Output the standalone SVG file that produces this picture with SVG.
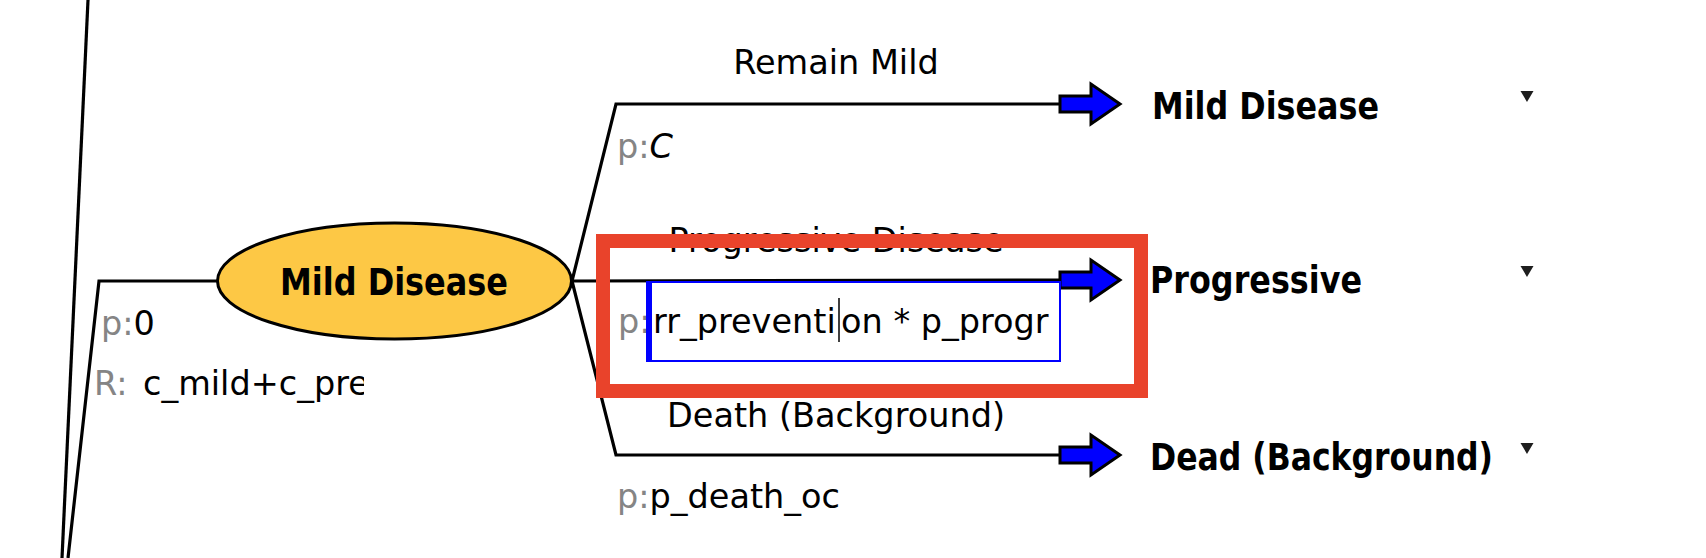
<svg xmlns="http://www.w3.org/2000/svg" width="1706" height="558" viewBox="0 0 1706 558">
  <style>
    .ln { fill: none; stroke: #000; stroke-width: 3.2; stroke-linejoin: miter; }
    .t { font-family: "DejaVu Sans", "Open Sans", sans-serif; font-size: 33.5px; fill: #000; }
    .b { font-family: "DejaVu Sans", "Open Sans", sans-serif; font-size: 37px; font-weight: bold; fill: #000; }
    .g { fill: #858585; }
    .arrow { fill: #0000ff; stroke: #000; stroke-width: 3; stroke-linejoin: miter; }
    .tri { fill: #1e1e1e; }
  </style>
  <defs>
    <polygon id="arr" class="arrow" points="0,-8 31,-8 31,-20 60,0 31,20 31,8 0,8"/>
    <polygon id="tri" class="tri" points="-6.5,0 6.5,0 0,11"/>
    <clipPath id="clipR"><rect x="0" y="360" width="364" height="60"/></clipPath>
    <clipPath id="clipBox"><rect x="652" y="283" width="407" height="77"/></clipPath>
  </defs>
  <rect width="1706" height="558" fill="#fff"/>

  <g id="connectors">
    <line class="ln" x1="88" y1="0" x2="62" y2="558"/>
    <polyline class="ln" points="68,558 99,281 218,281"/>
    <polyline class="ln" points="572,281 616,104 1060,104"/>
    <line class="ln" x1="572" y1="281" x2="1060" y2="280"/>
    <polyline class="ln" points="572,281 616,455 1060,455"/>
    <use href="#arr" x="1060" y="104"/>
    <use href="#arr" x="1060" y="280"/>
    <use href="#arr" x="1060" y="455"/>
  </g>

  <g id="edge-labels">
    <text class="t" x="836" y="74" text-anchor="middle">Remain Mild</text>
    <text class="t" x="836" y="252" text-anchor="middle">Progressive Disease</text>
    <text class="t" x="836" y="427" text-anchor="middle">Death (Background)</text>
    <text class="t" x="617" y="158"><tspan class="g">p:</tspan><tspan font-style="italic">C</tspan></text>
    <text class="t g" x="618" y="333">p:</text>
    <text class="t" x="617" y="508"><tspan class="g">p:</tspan>p_death_oc</text>
  </g>

  <g id="root-labels">
    <text class="t" x="101" y="335"><tspan class="g">p:</tspan>0</text>
    <text class="t g" x="94" y="395">R:</text>
    <text class="t" x="143" y="395" clip-path="url(#clipR)">c_mild+c_pre</text>
  </g>

  <g id="node-mild-disease">
    <ellipse cx="394.5" cy="281" rx="177" ry="58" fill="#fdc845" stroke="#000" stroke-width="3"/>
    <text class="b" x="280" y="295" textLength="228" lengthAdjust="spacingAndGlyphs">Mild Disease</text>
  </g>

  <g id="node-terminal-mild">
    <text class="b" x="1152" y="119" textLength="227" lengthAdjust="spacingAndGlyphs">Mild Disease</text>
    <use href="#tri" x="1527" y="91"/>
  </g>
  <g id="node-terminal-progressive">
    <text class="b" x="1150" y="293" textLength="212" lengthAdjust="spacingAndGlyphs">Progressive</text>
    <use href="#tri" x="1527" y="266"/>
  </g>
  <g id="node-terminal-dead">
    <text class="b" x="1150" y="470" textLength="343" lengthAdjust="spacingAndGlyphs">Dead (Background)</text>
    <use href="#tri" x="1527" y="443"/>
  </g>

  <g id="edit-box">
    <rect x="647" y="282" width="413" height="79" fill="#fff" stroke="#0000ff" stroke-width="2"/>
    <rect x="646" y="281" width="6" height="81" fill="#0000ff"/>
    <text class="t" x="653" y="333" clip-path="url(#clipBox)">rr_preventi<tspan x="841">on * p_progr</tspan></text>
    <line x1="839" y1="298" x2="839" y2="342" stroke="#000" stroke-width="1.5"/>
  </g>

  <g id="highlight">
    <rect x="603" y="241" width="538" height="150" fill="none" stroke="#e9432b" stroke-width="14"/>
  </g>
</svg>
